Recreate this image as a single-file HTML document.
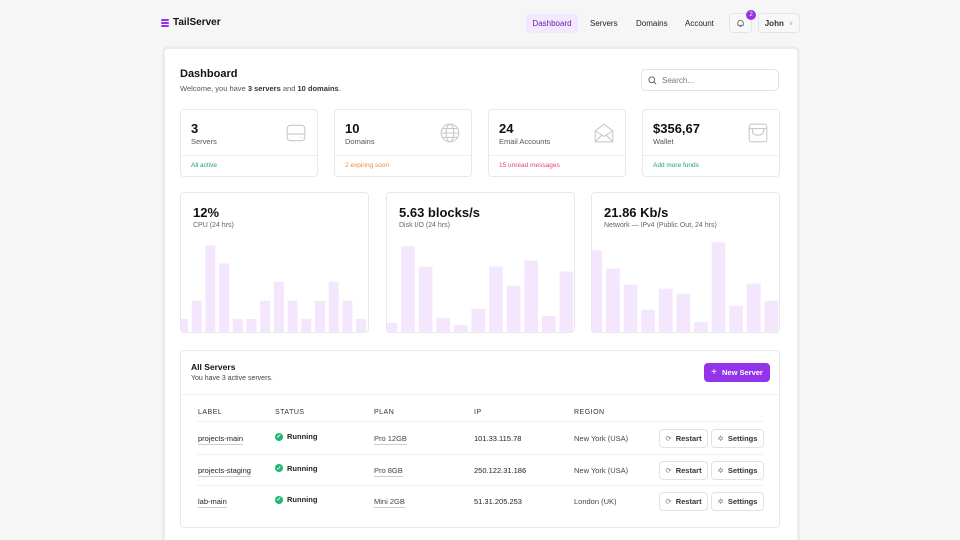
<!DOCTYPE html>
<html><head><meta charset="utf-8"><style>
*{box-sizing:border-box;margin:0;padding:0}
html,body{width:960px;height:540px;overflow:hidden}
body{background:#f6f6f6;font-family:"Liberation Sans",sans-serif;color:#111;position:relative}
.a{position:absolute}
.card{position:absolute;background:#fff;border:1px solid #e8e8ea;border-radius:4px;overflow:hidden}
.nav{font-size:8px;color:#222}
.big{font-size:13px;font-weight:bold}
.lbl{font-size:7.5px;color:#555}
.ft{font-size:6.5px}
.th{font-size:7px;letter-spacing:.5px;color:#333}
.td{font-size:7.5px;color:#222}
.u{border-bottom:1px solid #ccc;padding-bottom:1px}
.btn{position:absolute;height:19px;border:1px solid #e3e3e6;border-radius:4px;background:#fff;font-size:7.5px;font-weight:bold;color:#333;display:flex;align-items:center;justify-content:center;gap:4px}
.row{position:absolute;left:16px;right:16px;height:1px;background:#efeff1}
</style></head><body>
<div class="a" style="left:161px;top:17px;display:flex;align-items:center;gap:4px">
<svg width="8" height="8" viewBox="0 0 8 8"><rect y="0" width="8" height="2" rx="1" fill="#9333ea"/><rect y="3" width="8" height="2" rx="1" fill="#9333ea"/><rect y="6" width="8" height="2" rx="1" fill="#9333ea"/></svg>
<span style="font-size:10px;font-weight:bold">TailServer</span></div>
<div class="a nav" style="left:526px;top:14px;width:52px;height:19px;background:#f3e8ff;border-radius:4px;color:#6b21a8;display:flex;align-items:center;justify-content:center">Dashboard</div>
<div class="a nav" style="left:590px;top:19px">Servers</div>
<div class="a nav" style="left:636px;top:19px">Domains</div>
<div class="a nav" style="left:685px;top:19px">Account</div>
<div class="a" style="left:729px;top:13px;width:23px;height:20px;border:1px solid #e5e5e7;border-radius:4px;background:#f8f8f8;display:flex;align-items:center;justify-content:center"><svg width="9" height="9" viewBox="0 0 10 10"><path d="M2 7 V4.5 a3 3 0 0 1 6 0 V7 H2 M4 8.5 h2 M5 1 v0.5" stroke="#555" fill="none" stroke-width="0.9"/></svg></div>
<div class="a" style="left:746px;top:10px;width:10px;height:10px;border-radius:50%;background:#9333ea;color:#fff;font-size:6px;display:flex;align-items:center;justify-content:center">2</div>
<div class="a nav" style="left:758px;top:13px;width:42px;height:20px;border:1px solid #e5e5e7;border-radius:4px;background:#f8f8f8;display:flex;align-items:center;justify-content:center;gap:5px;font-weight:bold;color:#333">John <span style="color:#aaa;font-weight:normal;font-size:6px">∨</span></div>

<div class="a" style="left:162px;top:46px;width:638px;height:494px;background:#fff;border:3px solid #ececee;border-bottom:none;border-radius:6px 6px 0 0"></div>
<div class="a" style="left:180px;top:68px;font-size:11px;font-weight:bold">Dashboard</div>
<div class="a" style="left:180px;top:84px;font-size:7.5px;color:#555">Welcome, you have <b style="color:#333">3 servers</b> and <b style="color:#333">10 domains</b>.</div>
<div class="a" style="left:641px;top:69px;width:138px;height:22px;border:1px solid #e3e3e6;border-radius:4px;display:flex;align-items:center;padding-left:6px;gap:5px;font-size:8px;color:#777"><svg width="9" height="9" viewBox="0 0 10 10"><circle cx="4.2" cy="4.2" r="3.2" stroke="#555" fill="none"/><path d="M6.6 6.6 L9 9" stroke="#555"/></svg>Search...</div>

<div id="stats"></div>
<div id="charts"></div>

<div class="card" style="left:180px;top:350px;width:600px;height:178px">
<div class="a" style="left:10px;top:11px;font-size:8.5px;font-weight:bold">All Servers</div>
<div class="a" style="left:10px;top:24px;font-size:7px;color:#444">You have 3 active servers.</div>
<div class="a" style="left:523px;top:12px;width:66px;height:19px;background:#9333ea;border-radius:4px;color:#fff;font-size:7.5px;font-weight:bold;display:flex;align-items:center;justify-content:center;gap:5px"><span style="font-weight:normal;font-size:10px">+</span>New Server</div>
<div class="a" style="left:0;right:0;top:43px;height:1px;background:#f0f0f2"></div>
<div class="a th" style="left:17px;top:58px">LABEL</div>
<div class="a th" style="left:94px;top:58px">STATUS</div>
<div class="a th" style="left:193px;top:58px">PLAN</div>
<div class="a th" style="left:293px;top:58px">IP</div>
<div class="a th" style="left:393px;top:58px">REGION</div>
<div class="row" style="top:70px"></div>
<div id="rows"></div>
</div>

<script>
// stat cards
const statValues=["3","10","24","$356,67"];
const statLabels=["Servers","Domains","Email Accounts","Wallet"];
const statFooters=["All active","2 expiring soon","15 unread messages","Add more funds"];
const statColors=["#22a06b","#f08a3c","#e0457b","#22a06b"];
const icons=[
'<rect x="2" y="3" width="16" height="14" rx="3"/><path d="M2 11h16M14 14h1"/>',
'<circle cx="10" cy="10" r="8"/><ellipse cx="10" cy="10" rx="3.5" ry="8"/><path d="M2 10h16M3.5 6h13M3.5 14h13"/>',
'<path d="M2 8 L10 2 L18 8 V18 H2 Z M2 8 L10 13 L18 8 M2 18 L8 12 M18 18 L12 12"/>',
'<rect x="2" y="2" width="16" height="16" rx="2"/><path d="M2 6h16M5 6 v3 a5 3 0 0 0 10 0 V6"/>'];
const sx=[180,334,488,642];
let h='';
statValues.forEach((v,i)=>{
h+=`<div class="card" style="left:${sx[i]}px;top:109px;width:138px;height:68px">
<div class="a big" style="left:10px;top:11px">${v}</div>
<div class="a lbl" style="left:10px;top:27px">${statLabels[i]}</div>
<svg class="a" style="left:104px;top:12px" width="22" height="22" viewBox="0 0 20 20" fill="none" stroke="#c9c9cd" stroke-width="1">${icons[i]}</svg>
<div class="a" style="left:0;right:0;top:45px;height:1px;background:#f0f0f2"></div>
<div class="a ft" style="left:10px;top:52px;color:${statColors[i]}">${statFooters[i]}</div></div>`;});
document.getElementById('stats').innerHTML=h;
h='';
</script>
<script>
// chart data (bar heights in px units of the sparkline scale)
const cpuValues=[15,33,88,70,15,15,33,52,33,15,33,52,33,15];
const diskValues=[11,87,67,16,9,25,67,48,73,18,62];
const netValues=[83,65,49,24,45,40,12,91,28,50,33];
const chartTitles=["12%","5.63 blocks/s","21.86 Kb/s"];
const chartSubs=["CPU (24 hrs)","Disk I/O (24 hrs)","Network — IPv4 (Public Out, 24 hrs)"];
const chartSeries=[cpuValues,diskValues,netValues];
const cx=[180,386,591];
const W=189,H=141,yMax=140;
function yScale(v){return v/yMax*H;}
const host=document.getElementById('charts');
chartSeries.forEach((vals,ci)=>{
  const c=document.createElement('div');
  c.className='card';
  
  
  c.style.cssText=`left:${cx[ci]}px;top:192px;width:${W}px;height:${H}px`;
  c.innerHTML=`<div class="a big" style="left:12px;top:12px">${chartTitles[ci]}</div><div class="a" style="left:12px;top:29px;font-size:7px;color:#666">${chartSubs[ci]}</div>`;
  const n=vals.length;
  const pitch=ci===0?13.7:17.6, bw=ci===0?10:13.7, off=ci===0?-3:-3.5;
  const svg=document.createElementNS('http://www.w3.org/2000/svg','svg');
  svg.setAttribute('width',W);svg.setAttribute('height',H);
  svg.style.cssText='position:absolute;left:0;top:0';
  vals.forEach((v,i)=>{
    const r=document.createElementNS('http://www.w3.org/2000/svg','rect');
    
    
    const hh=yScale(v);
    r.setAttribute('x',off+i*pitch);r.setAttribute('width',bw);
    r.setAttribute('y',H-hh);r.setAttribute('height',hh);
    r.setAttribute('fill','#f3e6fd');
    svg.appendChild(r);
  });
  c.appendChild(svg);
  host.appendChild(c);
});
</script>
<script>
const labels=["projects-main","projects-staging","lab-main"];
const plans=["Pro 12GB","Pro 8GB","Mini 2GB"];
const ips=["101.33.115.78","250.122.31.186","51.31.205.253"];
const regions=["New York (USA)","New York (USA)","London (UK)"];
let r='';
labels.forEach((l,i)=>{
const y=71+i*31.7;
r+=`<div class="a td u" style="left:17px;top:${y+12}px">${l}</div>
<div class="a td" style="left:94px;top:${y+10}px;display:flex;align-items:center;gap:4px;font-weight:bold"><span style="width:8px;height:8px;border-radius:50%;background:#22b573;color:#fff;font-size:6px;display:inline-flex;align-items:center;justify-content:center">✓</span>Running</div>
<div class="a td u" style="left:193px;top:${y+12}px;color:#444">${plans[i]}</div>
<div class="a td" style="left:293px;top:${y+12}px">${ips[i]}</div>
<div class="a td" style="left:393px;top:${y+12}px;color:#444">${regions[i]}</div>
<div class="btn" style="left:478px;top:${y+7}px;width:49px"><span style="color:#888;font-weight:normal">⟳</span>Restart</div>
<div class="btn" style="left:530px;top:${y+7}px;width:53px"><span style="color:#888;font-weight:normal">✲</span>Settings</div>
${i<2?`<div class="row" style="top:${y+31.5}px"></div>`:''}`;});
document.getElementById('rows').innerHTML=r;
</script>
</body></html>
